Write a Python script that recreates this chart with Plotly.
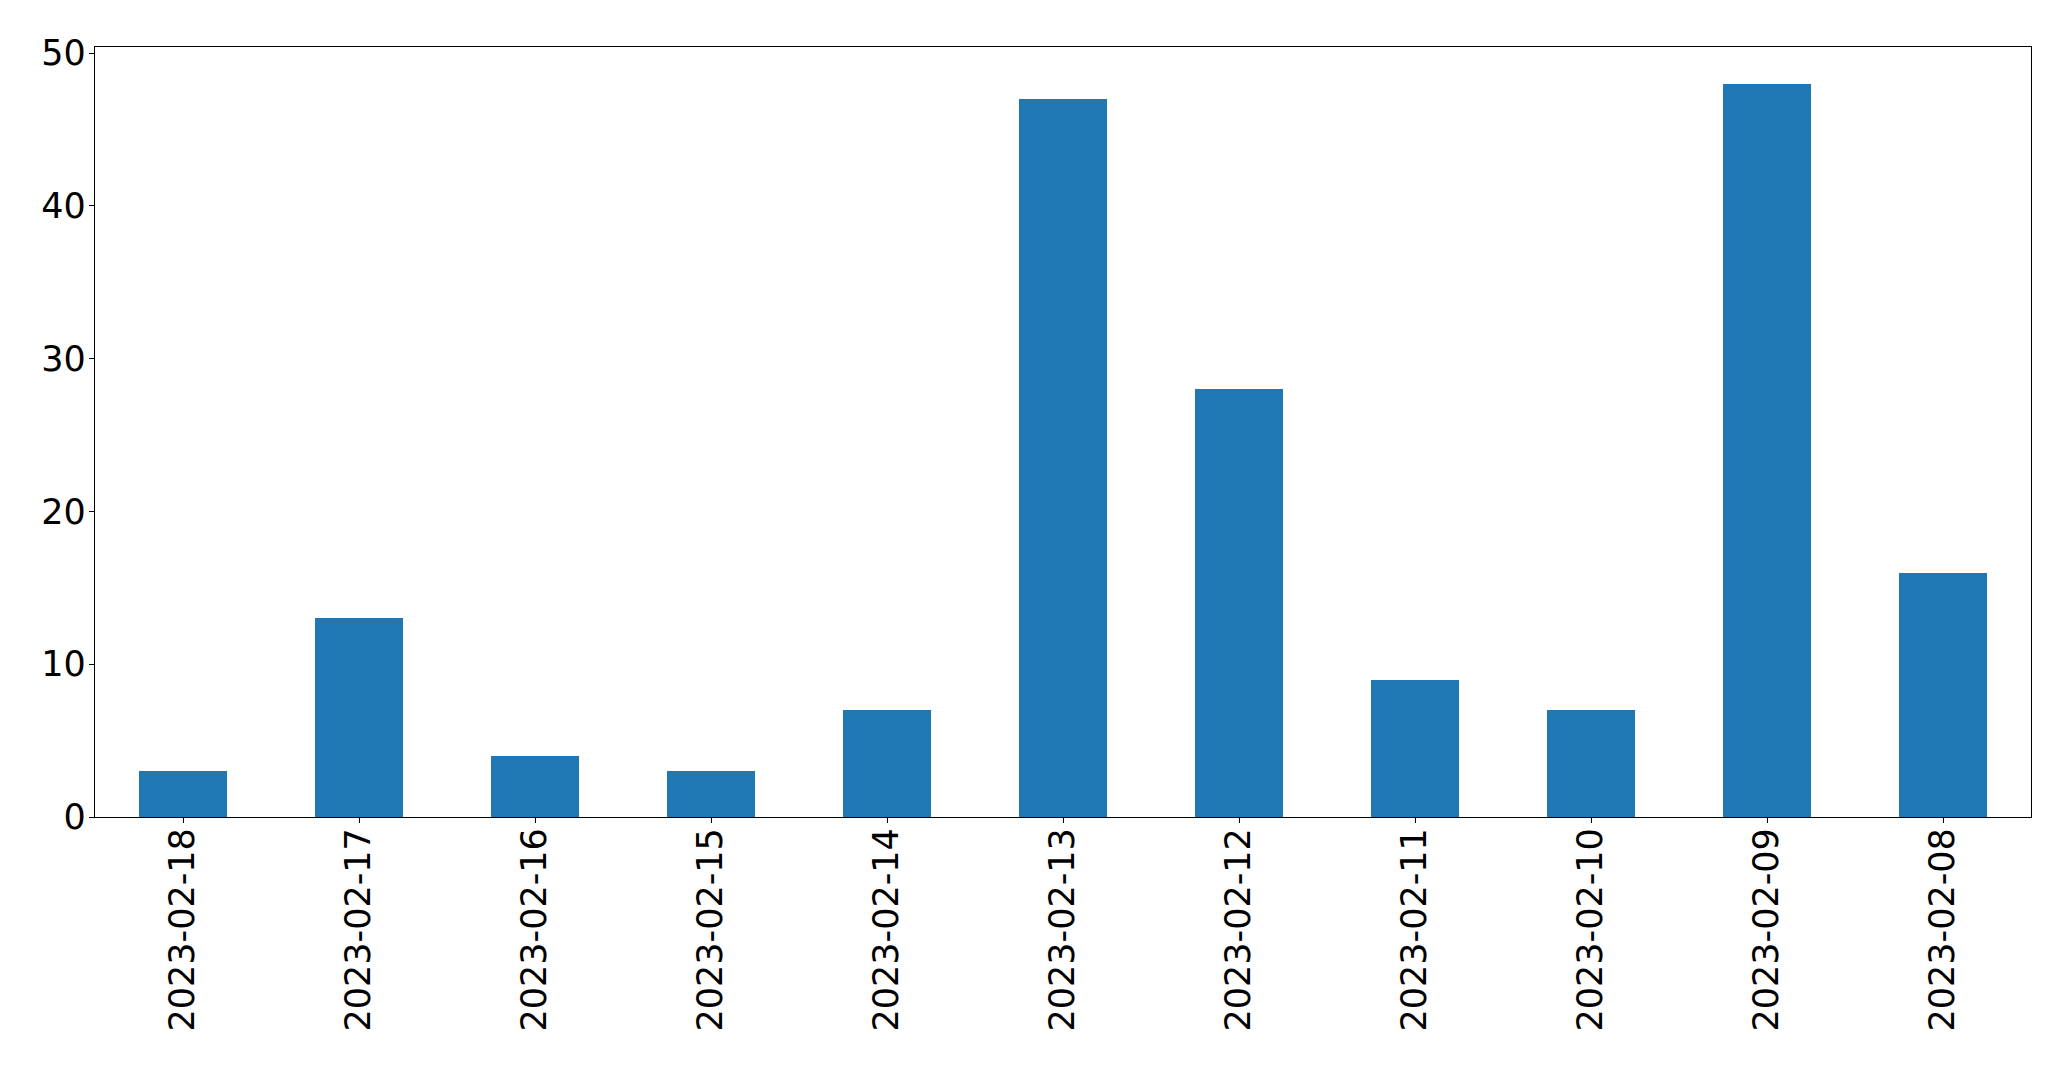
import plotly.graph_objects as go

dates = ["2023-02-18", "2023-02-17", "2023-02-16", "2023-02-15", "2023-02-14",
         "2023-02-13", "2023-02-12", "2023-02-11", "2023-02-10", "2023-02-09", "2023-02-08"]
counts = [3, 13, 4, 3, 7, 47, 28, 9, 7, 48, 16]
y_ticks = [0, 10, 20, 30, 40, 50]

fig = go.Figure(go.Bar(x=list(range(len(dates))), y=counts, width=0.5,
                       marker=dict(color="#1f77b4", line=dict(width=0))))

fig.update_layout(
    width=2063, height=1061,
    margin=dict(l=87, r=40, t=39, b=252, autoexpand=False),
    paper_bgcolor="white", plot_bgcolor="white",
    font=dict(family="DejaVu Sans", size=35, color="black"),
    showlegend=False,
    bargap=0,
)
fig.update_xaxes(
    range=[-0.5, len(dates) - 0.5],
    tickmode="array", tickvals=list(range(len(dates))), ticktext=dates,
    tickangle=-90, ticklabelstandoff=-9,
    showline=True, mirror=True, linecolor="black", linewidth=1.3,
    ticks="outside", ticklen=5, tickwidth=1.3, tickcolor="black",
    showgrid=False, zeroline=False, automargin=False,
)
fig.update_yaxes(
    range=[0, 50.4],
    tickmode="array", tickvals=y_ticks, ticklabelstandoff=-4,
    showline=True, mirror=True, linecolor="black", linewidth=1.3,
    ticks="outside", ticklen=5, tickwidth=1.3, tickcolor="black",
    showgrid=False, zeroline=False, automargin=False,
)

fig.write_html("out.html")
